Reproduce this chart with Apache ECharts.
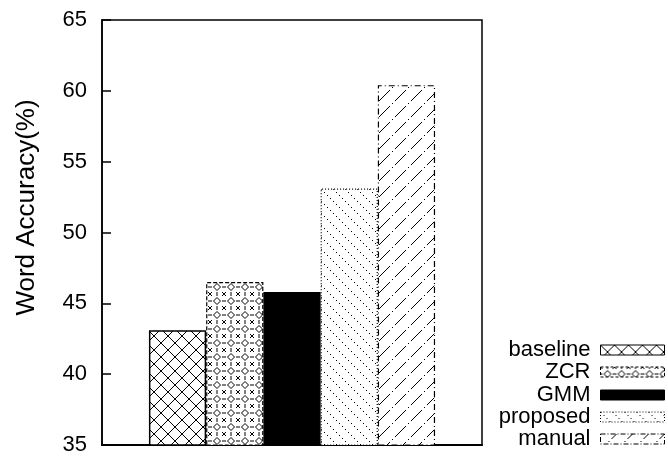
<!DOCTYPE html>
<html>
<head>
<meta charset="utf-8">
<script src="https://cdn.jsdelivr.net/npm/echarts@6/dist/echarts.min.js"></script>
<style>html,body{margin:0;padding:0;background:#fff;}#c{width:668px;height:456px;}</style>
</head>
<body>
<div id="c"></div>
<script>
const categories = [''];
const seriesNames = ['baseline', 'ZCR', 'GMM', 'proposed', 'manual'];
const baseline = [43.1];
const zcr = [46.5];
const gmm = [45.8];
const proposed = [53.1];
const manual = [60.4];
const yTicks = [35, 40, 45, 50, 55, 60, 65];

function makePattern(w, h, draw) {
  const c = document.createElement('canvas');
  c.width = w; c.height = h;
  const ctx = c.getContext('2d');
  ctx.fillStyle = '#fff';
  ctx.fillRect(0, 0, w, h);
  ctx.strokeStyle = '#000';
  ctx.fillStyle = '#000';
  ctx.lineWidth = 1;
  draw(ctx, w, h);
  return { image: c, repeat: 'repeat' };
}
function dottedLine(ctx, x0, y0, x1, y1, step) {
  const n = Math.max(Math.abs(x1 - x0), Math.abs(y1 - y0));
  for (let i = 0; i < n; i += step) {
    const t = i / n;
    ctx.fillRect(Math.round(x0 + (x1 - x0) * t), Math.round(y0 + (y1 - y0) * t), 1, 1);
  }
}
const patCross = makePattern(14, 14, (ctx) => {
  ctx.beginPath();
  ctx.moveTo(-1, -1); ctx.lineTo(15, 15);
  ctx.moveTo(15, -1); ctx.lineTo(-1, 15);
  ctx.stroke();
});
const patZcr = makePattern(14, 14, (ctx) => {
  ctx.beginPath();
  ctx.moveTo(7, 3.5); ctx.lineTo(10.5, 7); ctx.lineTo(7, 10.5); ctx.lineTo(3.5, 7); ctx.closePath();
  const xs = [[0, 0], [14, 0], [0, 14], [14, 14]];
  xs.forEach(([x, y]) => {
    ctx.moveTo(x - 2, y - 2); ctx.lineTo(x + 2, y + 2);
    ctx.moveTo(x + 2, y - 2); ctx.lineTo(x - 2, y + 2);
  });
  [[7, 0], [7, 14]].forEach(([x, y]) => {
    ctx.moveTo(x, y - 2); ctx.lineTo(x, y + 2);
  });
  [[0, 7], [14, 7]].forEach(([x, y]) => {
    ctx.moveTo(x - 2, y); ctx.lineTo(x + 2, y);
  });
  ctx.stroke();
});
const patDots = makePattern(12, 12, (ctx) => {
  dottedLine(ctx, 0, 0, 12, 12, 3);
});
const patDash = makePattern(16, 16, (ctx) => {
  for (let i = 0; i < 16; i++) {
    const m = i % 11;
    if (m < 6 || m === 8) ctx.fillRect(i, 15 - i, 1, 1);
  }
});

const legendBorders = ['solid', [3, 2], 'solid', [1, 2], [5, 2, 1, 2]];
const rowTops = [339, 361, 384, 406, 428];
const legends = seriesNames.map((n, i) => ({
  orient: 'vertical', align: 'right', right: 3, top: rowTops[i], padding: 0,
  itemWidth: 64, itemHeight: 10, icon: 'rect',
  textStyle: { fontSize: 22, color: '#000', fontFamily: 'Liberation Sans', padding: [0, 5, 0, 0] },
  data: [{ name: n, itemStyle: { borderColor: '#000', borderWidth: 1, borderType: legendBorders[i] } }]
}));

const common = { type: 'bar', barGap: '0%', barCategoryGap: '24.7%' };
const option = {
  animation: false,
  backgroundColor: '#fff',
  textStyle: { fontFamily: 'Liberation Sans, Arial, sans-serif' },
  grid: { left: 102, right: 186, top: 20, bottom: 7, show: true, borderColor: '#000', borderWidth: 1.5, containLabel: false },
  legend: legends,
  xAxis: {
    type: 'category', data: categories,
    axisLine: { show: true, lineStyle: { color: '#000', width: 2 } },
    axisTick: { show: false }, axisLabel: { show: false }, splitLine: { show: false }
  },
  yAxis: {
    type: 'value', min: yTicks[0], max: yTicks[yTicks.length - 1], interval: 5,
    name: 'Word Accuracy(%)', nameLocation: 'middle', nameGap: 62, nameRotate: 90,
    nameTextStyle: { fontSize: 26, color: '#000', fontFamily: 'Liberation Sans', padding: [0, 0, 0, 50] },
    axisLine: { show: true, lineStyle: { color: '#000', width: 1.5 } },
    axisTick: { show: true, inside: true, length: 9, lineStyle: { color: '#000', width: 1.5 } },
    axisLabel: { fontSize: 22, color: '#000', margin: 15, fontFamily: 'Liberation Sans' },
    splitLine: { show: false }
  },
  series: [
    Object.assign({}, common, { name: seriesNames[0], data: baseline,
      itemStyle: { color: patCross, borderColor: '#000', borderWidth: 1.5, borderType: 'solid' } }),
    Object.assign({}, common, { name: seriesNames[1], data: zcr,
      itemStyle: { color: patZcr, borderColor: '#000', borderWidth: 1.2, borderType: [4, 2] } }),
    Object.assign({}, common, { name: seriesNames[2], data: gmm,
      itemStyle: { color: '#000', borderColor: '#000', borderWidth: 1.5, borderType: 'solid' } }),
    Object.assign({}, common, { name: seriesNames[3], data: proposed,
      itemStyle: { color: patDots, borderColor: '#000', borderWidth: 1.2, borderType: [1, 2] } }),
    Object.assign({}, common, { name: seriesNames[4], data: manual,
      itemStyle: { color: patDash, borderColor: '#000', borderWidth: 1.2, borderType: [6, 3, 1, 3] } })
  ]
};
const chart = echarts.init(document.getElementById('c'), null, { renderer: 'canvas' });
chart.setOption(option);
</script>
</body>
</html>
